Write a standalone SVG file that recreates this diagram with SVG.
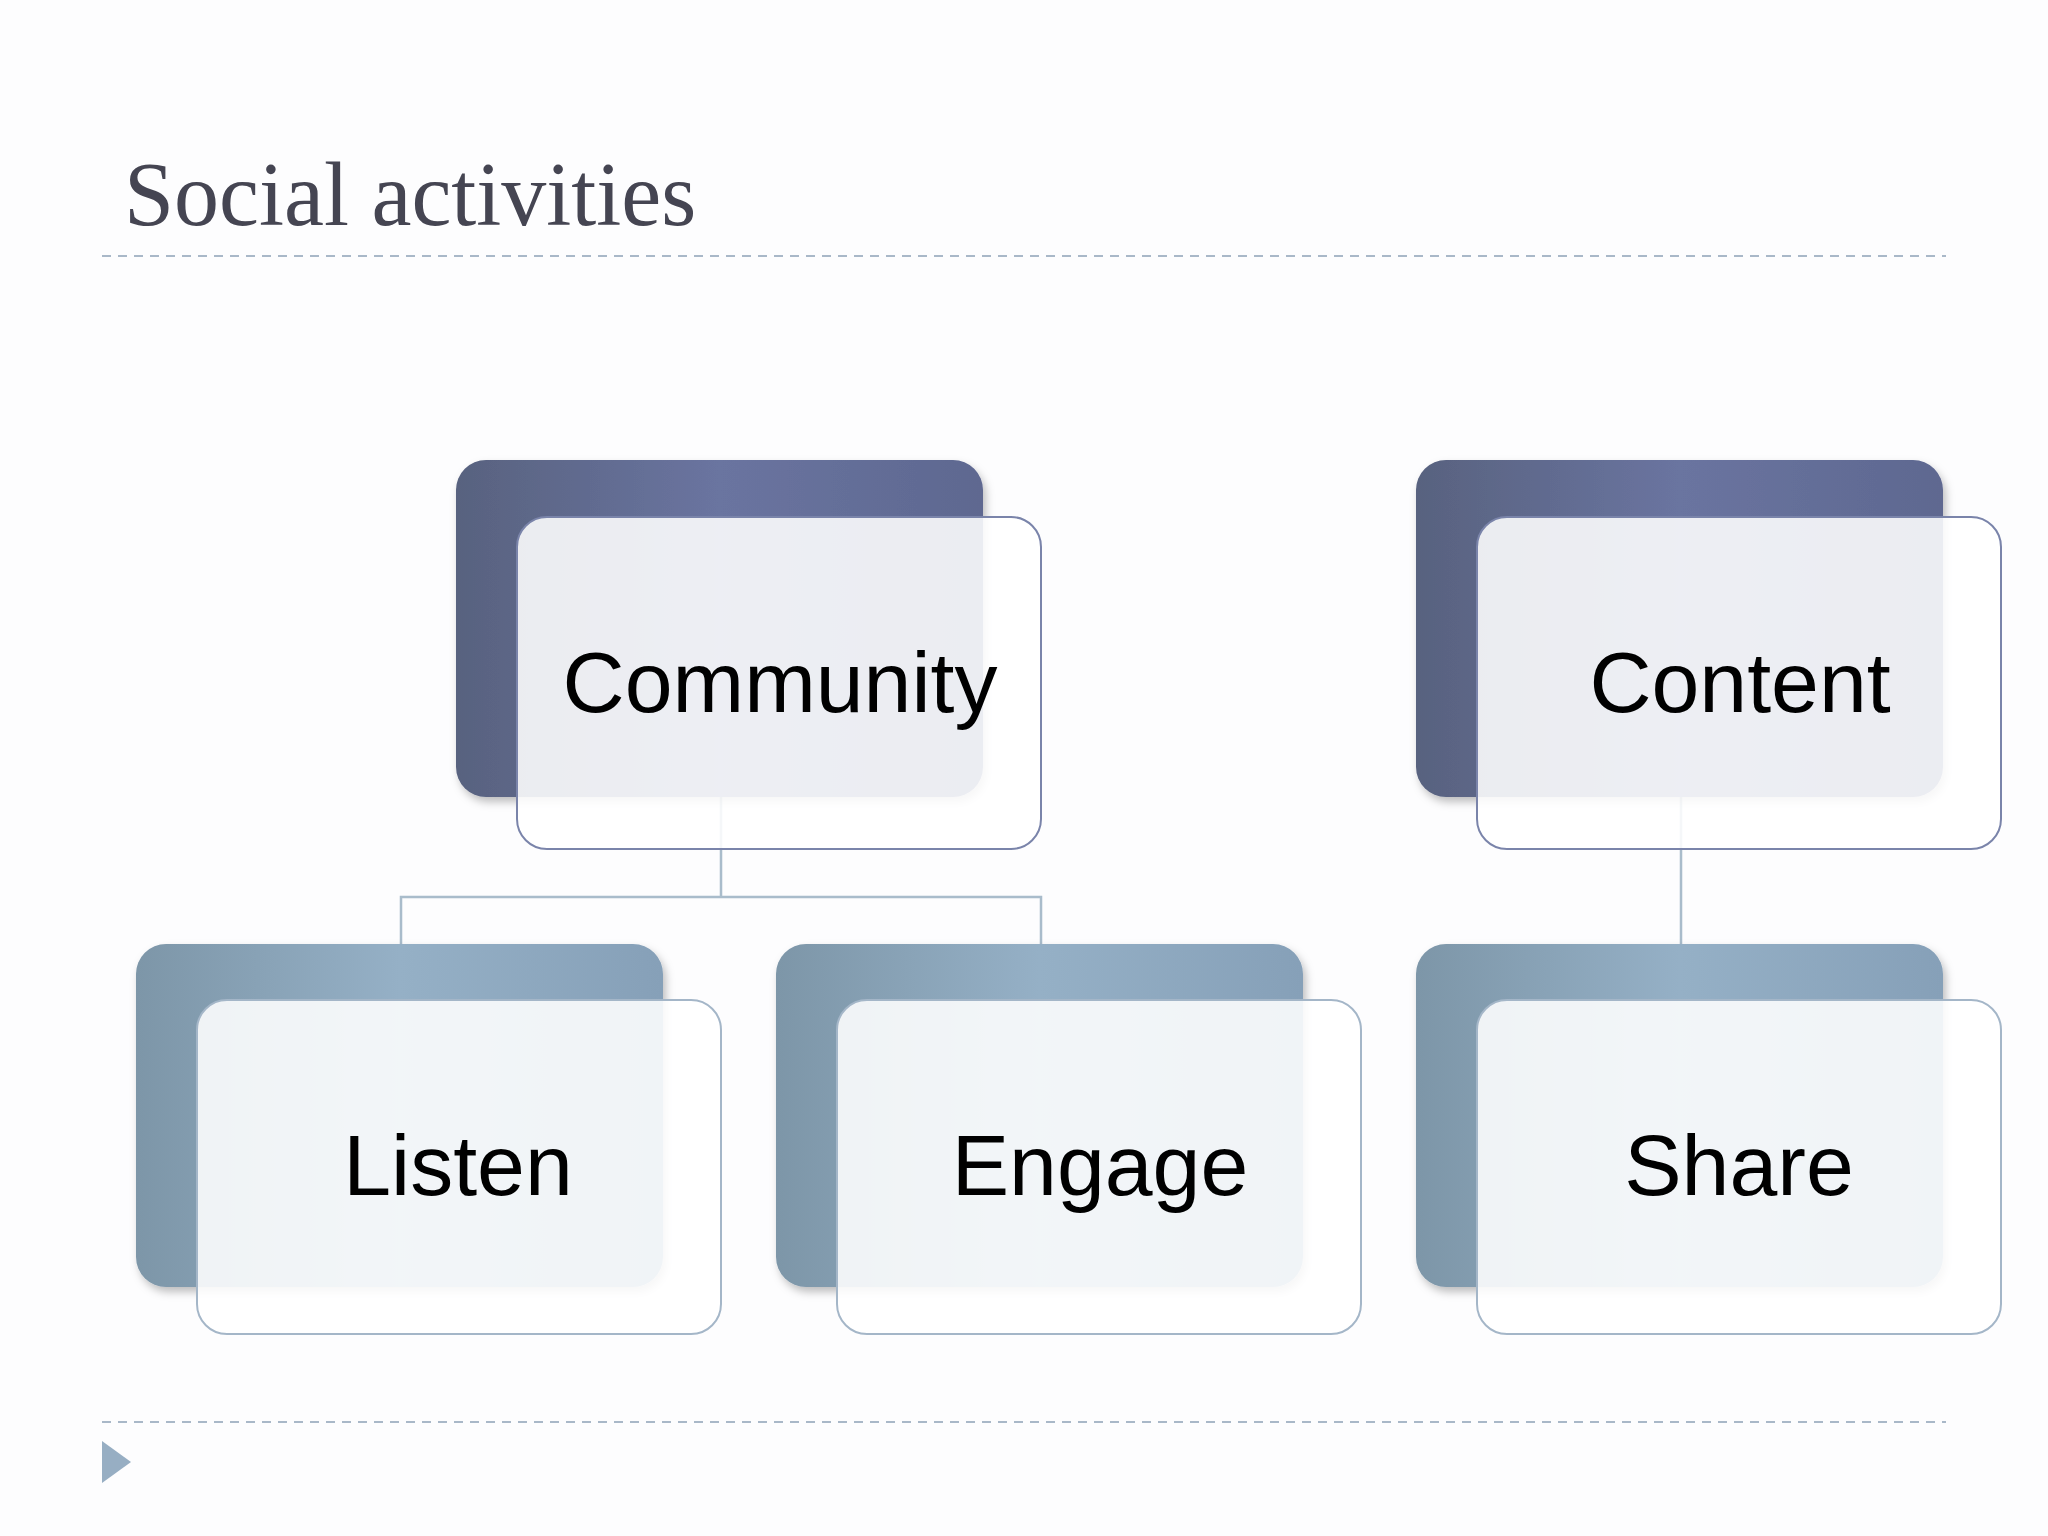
<svg xmlns="http://www.w3.org/2000/svg" width="2048" height="1536" viewBox="0 0 2048 1536">
<defs>
<linearGradient id="gTop" x1="0" y1="0" x2="1" y2="0"><stop offset="0" stop-color="#58627f"/><stop offset="0.5" stop-color="#6a74a0"/><stop offset="1" stop-color="#5e6890"/></linearGradient>
<linearGradient id="gBot" x1="0" y1="0" x2="1" y2="0"><stop offset="0" stop-color="#7d96a8"/><stop offset="0.5" stop-color="#95b0c6"/><stop offset="1" stop-color="#86a0b8"/></linearGradient>
<filter id="sh" x="-10%" y="-10%" width="125%" height="125%"><feDropShadow dx="3" dy="5" stdDeviation="4" flood-color="#000" flood-opacity="0.25"/></filter>
<style>
.fr{fill:#ffffff;fill-opacity:0.88;stroke-width:2}
.frT{stroke:#7a84aa}
.frB{stroke:#a4b6c8}
.lbl{font-family:"Liberation Sans",Arial,sans-serif;font-size:86px;fill:#000;text-anchor:middle}
.dash{stroke:#a9b8c8;stroke-width:2;stroke-dasharray:9 7}
.con{stroke:#a9bccb;stroke-width:2.5;fill:none}
</style>
</defs>
<rect width="2048" height="1536" fill="#fdfdfe"/>
<text x="124" y="225" font-family="'Liberation Serif',serif" font-size="90" fill="#454552">Social activities</text>
<line class="dash" x1="102" y1="256" x2="1946" y2="256"/>
<line class="dash" x1="102" y1="1422" x2="1946" y2="1422"/>
<polygon points="102,1441 131,1462 102,1483" fill="#97aec3"/>
<g id="connectors">
<path class="con" d="M721 797 V897 M401 944 V897 H1041 V944 M1681 797 V944"/>
</g>
<g id="community">
<rect x="456" y="460" width="527" height="337" rx="30" fill="url(#gTop)" filter="url(#sh)"/>
<rect class="fr frT" x="517" y="517" width="524" height="332" rx="30"/>
<text class="lbl" x="780" y="712">Community</text>
</g>
<g id="content">
<rect x="1416" y="460" width="527" height="337" rx="30" fill="url(#gTop)" filter="url(#sh)"/>
<rect class="fr frT" x="1477" y="517" width="524" height="332" rx="30"/>
<text class="lbl" x="1740" y="712">Content</text>
</g>
<g id="listen">
<rect x="136" y="944" width="527" height="343" rx="30" fill="url(#gBot)" filter="url(#sh)"/>
<rect class="fr frB" x="197" y="1000" width="524" height="334" rx="30"/>
<text class="lbl" x="458" y="1195">Listen</text>
</g>
<g id="engage">
<rect x="776" y="944" width="527" height="343" rx="30" fill="url(#gBot)" filter="url(#sh)"/>
<rect class="fr frB" x="837" y="1000" width="524" height="334" rx="30"/>
<text class="lbl" x="1100" y="1195">Engage</text>
</g>
<g id="share">
<rect x="1416" y="944" width="527" height="343" rx="30" fill="url(#gBot)" filter="url(#sh)"/>
<rect class="fr frB" x="1477" y="1000" width="524" height="334" rx="30"/>
<text class="lbl" x="1739" y="1195">Share</text>
</g>
</svg>
